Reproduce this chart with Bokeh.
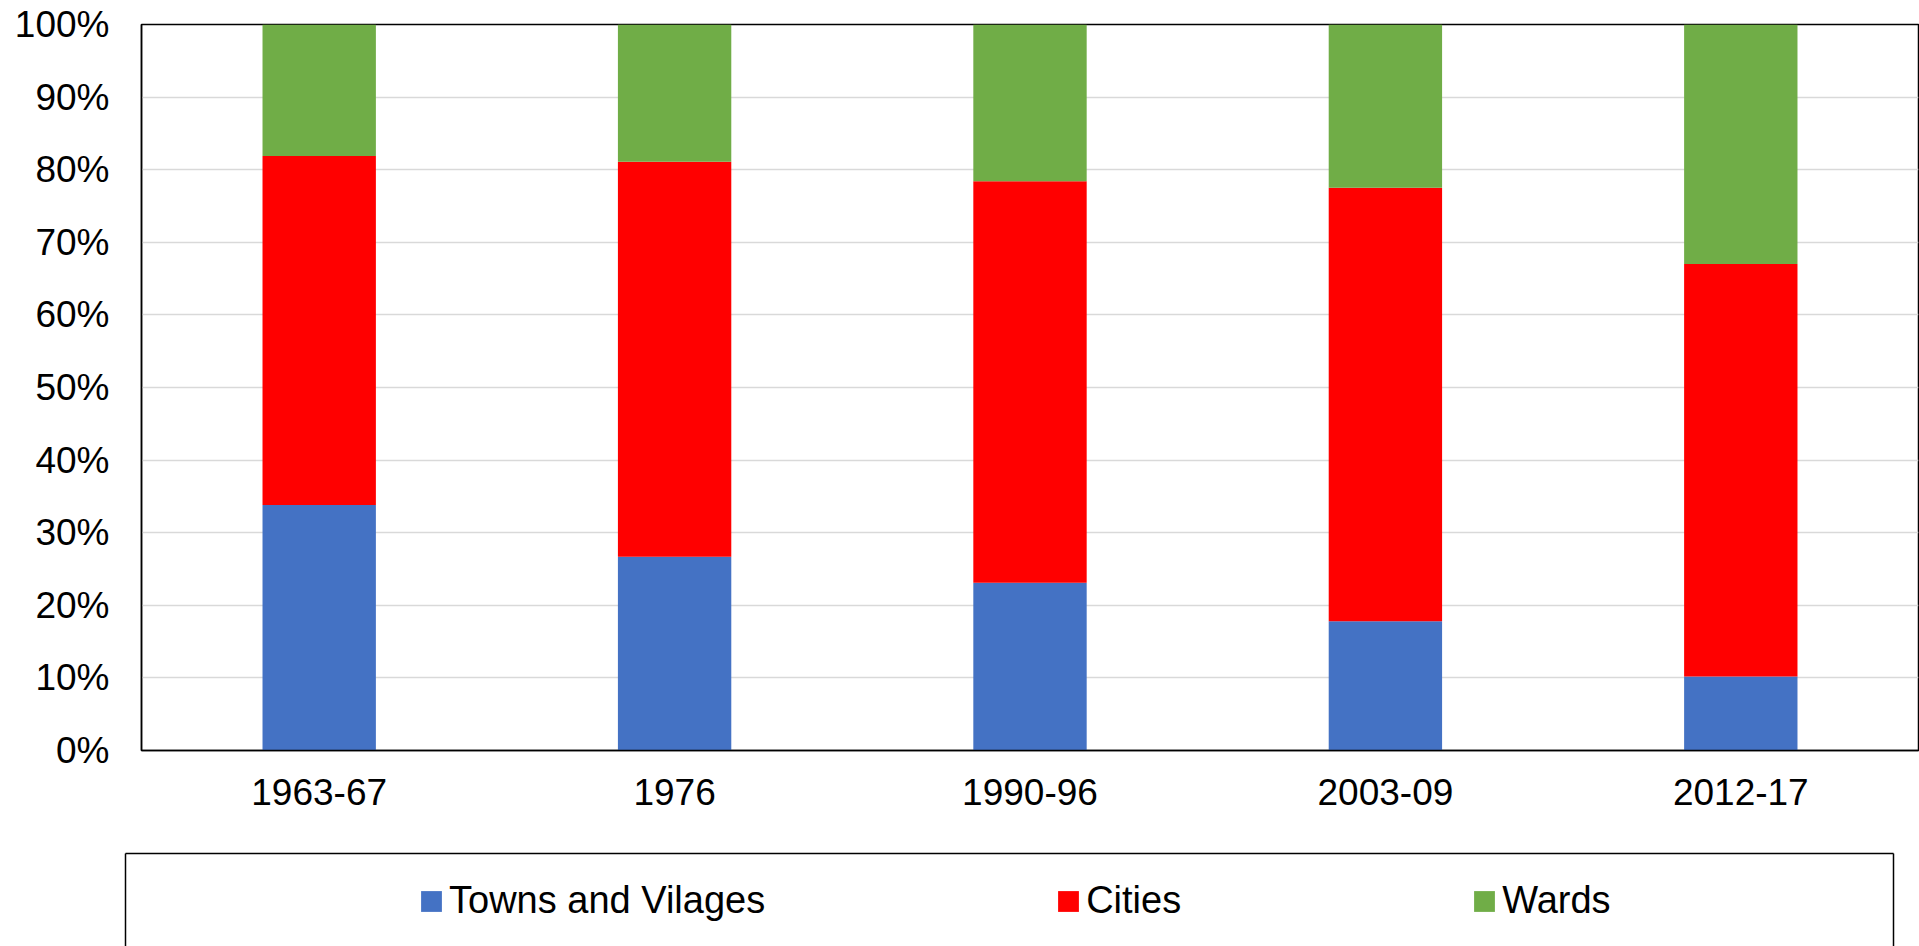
from bokeh.plotting import figure
from bokeh.models import (ColumnDataSource, FactorRange, Range1d, SingleIntervalTicker,
                          PrintfTickFormatter, Legend, LegendItem, LinearAxis, FixedTicker)
from bokeh.layouts import column
from bokeh.embed import file_html
from bokeh.resources import INLINE

categories = ["1963-67", "1976", "1990-96", "2003-09", "2012-17"]
towns = [33.8, 26.7, 23.1, 17.8, 10.2]
cities = [48.1, 54.4, 55.3, 59.7, 56.8]
wards = [18.1, 18.9, 21.6, 22.5, 33.0]
series = ["towns", "cities", "wards"]
series_labels = ["Towns and Vilages", "Cities", "Wards"]
colors = ["#4472C4", "#FF0000", "#70AD47"]

source = ColumnDataSource(data=dict(cat=categories, towns=towns, cities=cities, wards=wards))
FONT = "Liberation Sans"

p = figure(x_range=FactorRange(*categories), y_range=Range1d(0, 100),
           width=1919, height=852, output_backend="svg", toolbar_location=None,
           min_border_left=141, min_border_right=1, min_border_top=24, min_border_bottom=102,
           frame_align=False)
p.vbar_stack(series, x="cat", width=0.319, source=source, color=colors, line_color=None)

p.outline_line_color = "black"
p.outline_line_width = 1.5
p.xgrid.grid_line_color = None
p.ygrid.grid_line_color = "#d9d9d9"
p.ygrid.grid_line_width = 1.5
p.yaxis.ticker = SingleIntervalTicker(interval=10)
p.yaxis.formatter = PrintfTickFormatter(format="%d%%")
for ax in (p.xaxis, p.yaxis):
    ax.axis_line_color = "black"
    ax.axis_line_width = 1.5
    ax.major_tick_line_color = None
    ax.minor_tick_line_color = None
    ax.major_tick_out = 0
    ax.minor_tick_out = 0
    ax.major_label_text_font = FONT
    ax.major_label_text_font_size = "37px"
    ax.major_label_text_color = "black"
p.yaxis.major_label_standoff = 32
p.xaxis.major_label_standoff = 28

# legend panel (its frame edges form the legend box, open at the bottom)
q = figure(x_range=FactorRange(*categories), y_range=Range1d(200, 300),
           width=1919, height=94, output_backend="svg", toolbar_location=None,
           x_axis_type=None, y_axis_type=None,
           min_border_left=125, min_border_right=26, min_border_top=1, min_border_bottom=0,
           frame_align=False)
q.outline_line_color = None
q.xgrid.grid_line_color = None
q.ygrid.grid_line_color = None
rs = q.vbar_stack(series, x="cat", width=0.319, source=source, color=colors, line_color=None)
for place in ("left", "right", "above"):
    ax = LinearAxis(ticker=FixedTicker(ticks=[]), axis_line_color="black", axis_line_width=1.5,
                    major_tick_line_color=None, minor_tick_line_color=None,
                    major_tick_out=0, minor_tick_out=0, major_label_standoff=0,
                    major_label_text_font_size="0px")
    q.add_layout(ax, place)

legend = Legend(items=[LegendItem(label=l, renderers=[r]) for l, r in zip(series_labels, rs)],
                orientation="horizontal", location=(293, 24),
                border_line_color=None, background_fill_alpha=0,
                padding=0, margin=0, spacing=290,
                glyph_width=26, glyph_height=26, label_standoff=5,
                label_text_font=FONT, label_text_font_size="38px", label_text_color="black")
q.add_layout(legend)

layout = column(p, q, spacing=0)
open("out.html", "w").write(file_html(layout, INLINE))
